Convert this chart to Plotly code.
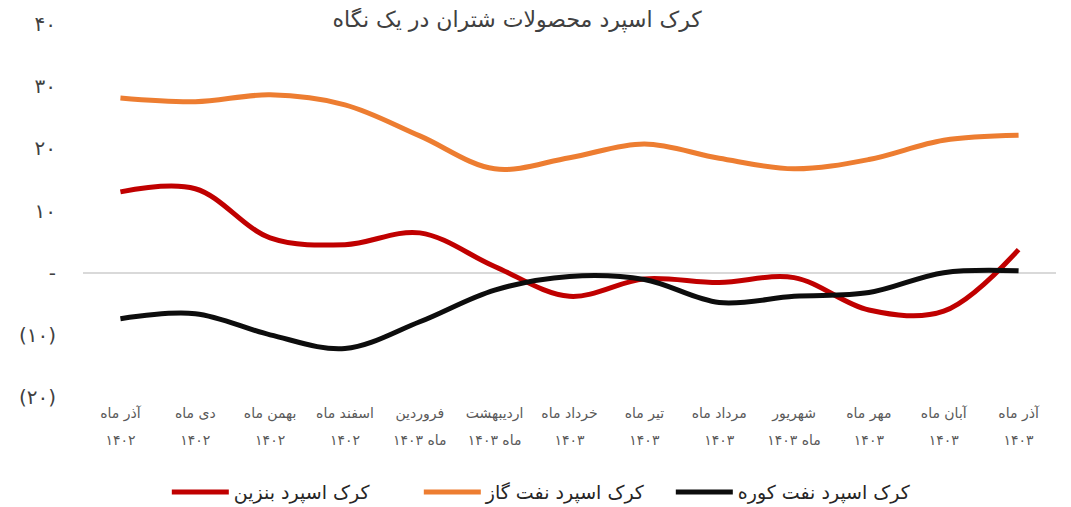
import plotly.graph_objects as go

month_labels = [
    "آذر ماه", "دی ماه", "بهمن ماه", "اسفند ماه", "فروردین", "اردیبهشت",
    "خرداد ماه", "تیر ماه", "مرداد ماه", "شهریور", "مهر ماه", "آبان ماه", "آذر ماه",
]
year_labels = [
    "۱۴۰۲", "۱۴۰۲", "۱۴۰۲", "۱۴۰۲", "ماه ۱۴۰۳", "ماه ۱۴۰۳",
    "۱۴۰۳", "۱۴۰۳", "۱۴۰۳", "ماه ۱۴۰۳", "۱۴۰۳", "۱۴۰۳", "۱۴۰۳",
]
gasoline = [13.0, 13.5, 5.6, 4.5, 6.4, 1.0, -3.8, -1.0, -1.6, -0.8, -6.0, -6.2, 3.7]
gasoil = [28.1, 27.5, 28.6, 27.0, 22.0, 16.7, 18.5, 20.7, 18.4, 16.7, 18.2, 21.3, 22.1]
fueloil = [-7.4, -6.6, -10.0, -12.2, -7.9, -2.8, -0.6, -1.1, -4.8, -3.8, -3.2, 0.0, 0.3]

series_names = ["کرک اسپرد بنزین", "کرک اسپرد نفت گاز", "کرک اسپرد نفت کوره"]
series_colors = ["#C00000", "#ED7D31", "#0D0D0D"]
series_xaxes = ["x", "x2", "x"]

ytick_vals = [-20, -10, 0, 10, 20, 30, 40]
ytick_text = ["(۲۰)", "(۱۰)", "-", "۱۰", "۲۰", "۳۰", "۴۰"]

title_text = "کرک اسپرد محصولات شتران در یک نگاه"

FONT = "DejaVu Sans"
positions = list(range(len(month_labels)))

fig = go.Figure()
for name, vals, col, xa in zip(series_names, [gasoline, gasoil, fueloil],
                               series_colors, series_xaxes):
    fig.add_trace(go.Scatter(
        x=positions, y=vals, name=name, mode="lines", xaxis=xa, yaxis="y",
        line=dict(color=col, width=5, shape="spline", smoothing=1.0),
    ))

fig.update_layout(
    width=1063, height=499, autosize=False,
    margin=dict(l=75, r=15, t=16, b=110, autoexpand=False),
    plot_bgcolor="white", paper_bgcolor="white",
    font=dict(family=FONT, color="#404040"),
    title=dict(text=title_text, x=0.479, xref="container", xanchor="center",
               y=0.978, yref="container", yanchor="middle",
               font=dict(family=FONT, size=22, color="#404040")),
    legend=dict(orientation="h", xref="container", x=0.505, xanchor="center",
                yref="container", y=0.030, yanchor="middle",
                font=dict(family=FONT, size=19, color="#262626"),
                itemwidth=57, entrywidth=180, entrywidthmode="pixels"),
    showlegend=True,
    xaxis=dict(
        range=[-0.5, 12.5], tickvals=positions, ticktext=month_labels,
        showgrid=False, zeroline=False, showline=False, ticks="",
        tickfont=dict(family=FONT, size=14, color="#595959"), tickangle=0,
        ticklabelstandoff=6,
    ),
    xaxis2=dict(
        overlaying="x", anchor="y", side="bottom",
        range=[-0.5, 12.5], tickvals=positions, ticktext=year_labels,
        showgrid=False, zeroline=False, showline=False, ticks="",
        tickfont=dict(family=FONT, size=14, color="#595959"), tickangle=0,
        ticklabelstandoff=33,
    ),
    yaxis=dict(
        range=[-20, 40], tickvals=ytick_vals, ticktext=ytick_text, showgrid=False,
        zeroline=True, zerolinecolor="#D9D9D9", zerolinewidth=1.5, showline=False,
        tickfont=dict(family=FONT, size=20, color="#404040"), ticklabelstandoff=26,
    ),
)

fig.write_html("out.html")
